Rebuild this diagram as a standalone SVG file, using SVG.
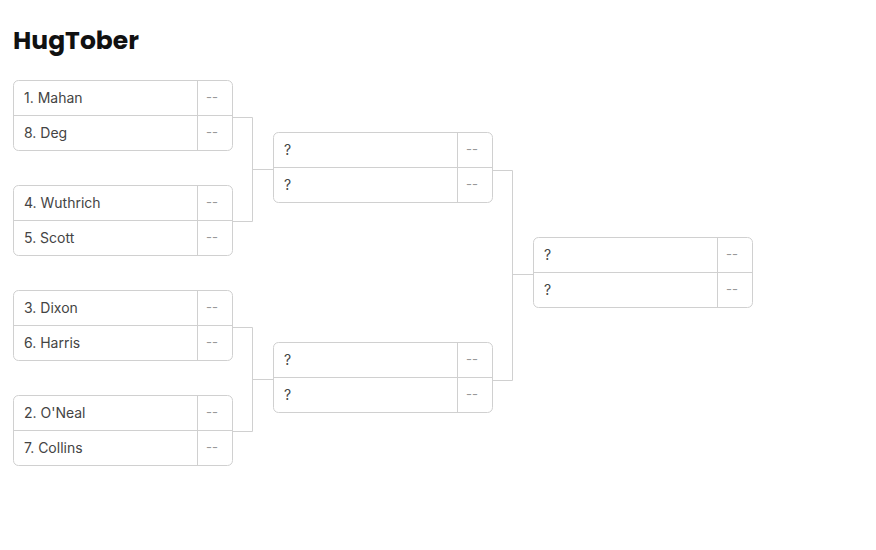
<svg xmlns="http://www.w3.org/2000/svg" width="876" height="550" viewBox="0 0 876 550">
<style>
.b{fill:#fff;stroke:#d0d0d0;stroke-width:1}
.l{stroke:#d0d0d0;stroke-width:1;fill:none}
.t{font-family:Inter,"Noto Sans",sans-serif;font-size:14px;fill:#444}
.s{font-family:Inter,"Noto Sans",sans-serif;font-size:13px;fill:#999}
</style>
<defs>
<g id="m">
<rect class="b" x="0.5" y="0.5" width="219" height="70" rx="5"/>
<line class="l" x1="0.5" y1="35.5" x2="219.5" y2="35.5"/>
<line class="l" x1="184.5" y1="0.5" x2="184.5" y2="70.5"/>
<text class="s" x="193" y="22">--</text>
<text class="s" x="193" y="57">--</text>
</g>
</defs>
<rect width="876" height="550" fill="#fff"/>
<text x="13" y="49" font-family="Poppins,Inter,'Noto Sans',sans-serif" font-weight="700" font-size="25" fill="#111">HugTober</text>
<g id="connectors">
<path class="l" d="M232 117.5H252.5V221.5H232M252.5 169.5H273"/>
<path class="l" d="M232 327.5H252.5V431.5H232M252.5 379.5H273"/>
<path class="l" d="M492 170.5H512.5V380.5H492M512.5 274.5H533"/>
</g>
<g id="m1" transform="translate(13,80)"><use href="#m"/><text class="t" x="11" y="23">1. Mahan</text><text class="t" x="11" y="58">8. Deg</text></g>
<g id="m2" transform="translate(13,185)"><use href="#m"/><text class="t" x="11" y="23">4. Wuthrich</text><text class="t" x="11" y="58">5. Scott</text></g>
<g id="m3" transform="translate(13,290)"><use href="#m"/><text class="t" x="11" y="23">3. Dixon</text><text class="t" x="11" y="58">6. Harris</text></g>
<g id="m4" transform="translate(13,395)"><use href="#m"/><text class="t" x="11" y="23">2. O'Neal</text><text class="t" x="11" y="58">7. Collins</text></g>
<g id="m5" transform="translate(273,132)"><use href="#m"/><text class="t" x="11" y="23">?</text><text class="t" x="11" y="58">?</text></g>
<g id="m6" transform="translate(273,342)"><use href="#m"/><text class="t" x="11" y="23">?</text><text class="t" x="11" y="58">?</text></g>
<g id="m7" transform="translate(533,237)"><use href="#m"/><text class="t" x="11" y="23">?</text><text class="t" x="11" y="58">?</text></g>
</svg>
